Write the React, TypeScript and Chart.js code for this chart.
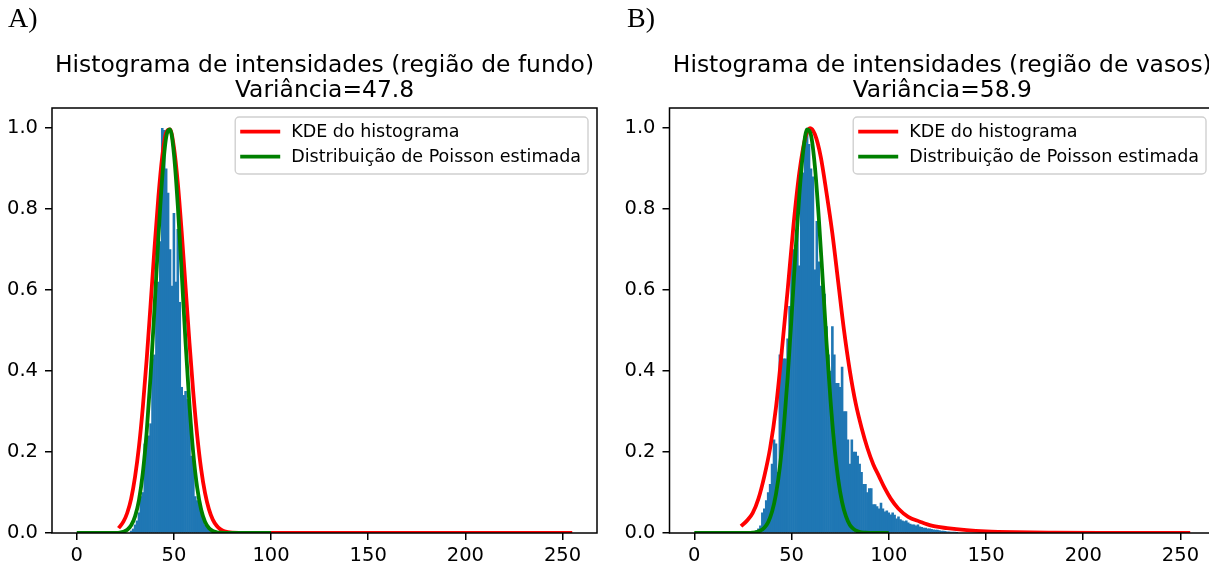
import React, { useEffect, useRef } from 'react';
import { Chart, registerables } from 'chart.js';

Chart.register(...registerables);

// ---------------- data ----------------
const xTickValues = [0, 50, 100, 150, 200, 250];
const yTickValues = [0, 0.2, 0.4, 0.6, 0.8, 1.0];
const legendLabels = ['KDE do histograma', 'Distribuição de Poisson estimada'];
const titleA = ['Histograma de intensidades (região de fundo)', 'Variância=47.8'];
const titleB = ['Histograma de intensidades (região de vasos)', 'Variância=58.9'];

// Panel A – background region
const binsA = [28, 29, 30, 31, 32, 33, 34, 35, 36, 37, 38, 39, 40, 41, 42, 43, 44, 45, 46, 47, 48, 49, 50, 51, 52, 53, 54, 55, 56, 57, 58, 59, 60, 61, 62, 63, 64, 65, 66, 67, 68, 69, 70, 71];
const countsA = [0.005, 0.01, 0.02, 0.03, 0.05, 0.09, 0.10, 0.22, 0.23, 0.24, 0.27, 0.43, 0.44, 0.60, 0.62, 0.72, 1.0, 0.995, 0.90, 0.84, 0.70, 0.61, 0.79, 0.62, 0.75, 0.57, 0.36, 0.34, 0.35, 0.33, 0.31, 0.19, 0.18, 0.09, 0.08, 0.07, 0.06, 0.04, 0.02, 0.015, 0.01, 0.006, 0.004, 0.002];
const kdeAx = [21.5, 24, 26, 28, 30, 32, 34, 36, 38, 40, 42, 44, 46, 48, 50, 52, 54, 56, 58, 60, 62, 64, 66, 68, 70, 72, 74, 76, 80, 90, 100, 150, 200, 255];
const kdeAy = [0.012, 0.028, 0.05, 0.085, 0.139, 0.213, 0.311, 0.43, 0.565, 0.703, 0.83, 0.93, 0.989, 0.997, 0.953, 0.864, 0.743, 0.607, 0.47, 0.345, 0.24, 0.158, 0.099, 0.059, 0.033, 0.018, 0.009, 0.004, 0.001, 0.0003, 0.0001, 0, 0, 0];
const poisAx = [0, 18, 20, 22, 24, 26, 28, 30, 32, 34, 36, 38, 40, 42, 44, 46, 48, 50, 52, 54, 56, 58, 60, 62, 64, 66, 68, 70, 72, 74, 76, 80, 100];
const poisAy = [0, 0.0001, 0.0004, 0.0011, 0.0031, 0.008, 0.019, 0.041, 0.081, 0.149, 0.251, 0.389, 0.555, 0.729, 0.88, 0.977, 0.997, 0.937, 0.809, 0.643, 0.47, 0.316, 0.195, 0.111, 0.058, 0.028, 0.0123, 0.005, 0.0019, 0.0006, 0.0002, 0, 0];

// Panel B – vessel region
const binsB = [30, 31, 32, 33, 34, 35, 36, 37, 38, 39, 40, 41, 42, 43, 44, 45, 46, 47, 48, 49, 50, 51, 52, 53, 54, 55, 56, 57, 58, 59, 60, 61, 62, 63, 64, 65, 66, 67, 68, 69, 70, 71, 72, 73, 74, 75, 76, 77, 78, 79, 80, 81, 82, 83, 84, 85, 86, 87, 88, 89, 90, 91, 92, 93, 94, 95, 96, 97, 98, 99, 100, 101, 102, 103, 104, 105, 106, 107, 108, 109, 110, 111, 112, 113, 114, 115, 116, 117, 118, 119, 120, 121, 122, 123, 124, 125, 126, 127, 128, 129, 130, 131, 132, 133, 134, 135];
const countsB = [0.003, 0.004, 0.006, 0.01, 0.018, 0.05, 0.06, 0.08, 0.10, 0.12, 0.17, 0.23, 0.22, 0.15, 0.44, 0.45, 0.43, 0.43, 0.48, 0.56, 0.69, 0.70, 0.69, 0.80, 0.66, 0.90, 0.89, 0.98, 1.0, 0.96, 0.90, 0.88, 0.65, 0.77, 0.67, 0.61, 0.60, 0.59, 0.51, 0.44, 0.40, 0.51, 0.44, 0.37, 0.37, 0.36, 0.41, 0.30, 0.30, 0.23, 0.17, 0.23, 0.20, 0.20, 0.19, 0.17, 0.15, 0.12, 0.12, 0.10, 0.11, 0.11, 0.07, 0.07, 0.065, 0.06, 0.074, 0.06, 0.052, 0.055, 0.05, 0.045, 0.05, 0.044, 0.035, 0.04, 0.033, 0.03, 0.028, 0.03, 0.025, 0.022, 0.02, 0.02, 0.018, 0.02, 0.015, 0.014, 0.012, 0.012, 0.01, 0.01, 0.009, 0.008, 0.007, 0.007, 0.006, 0.005, 0.005, 0.004, 0.003, 0.003, 0.002, 0.002, 0.002, 0.001];
const kdeBx = [24, 27, 30, 33, 36, 39, 42, 45, 48, 51, 54, 57, 59.5, 62, 65, 68, 71, 74, 77, 80, 83, 86, 89, 92, 95, 98, 101, 105, 110, 116, 122, 130, 140, 150, 165, 185, 210, 255];
const kdeBy = [0.017, 0.03, 0.049, 0.085, 0.14, 0.21, 0.31, 0.45, 0.60, 0.76, 0.89, 0.975, 1.0, 0.985, 0.93, 0.84, 0.74, 0.62, 0.50, 0.40, 0.32, 0.26, 0.21, 0.17, 0.14, 0.11, 0.085, 0.06, 0.04, 0.028, 0.018, 0.012, 0.007, 0.004, 0.002, 0.001, 0.0005, 0.0002];
const poisBx = [0, 28, 30, 32, 34, 36, 38, 40, 42, 44, 46, 48, 50, 52, 54, 56, 58, 60, 62, 64, 66, 68, 70, 72, 74, 76, 78, 80, 82, 84, 86, 88, 90, 100];
const poisBy = [0, 0.0003, 0.001, 0.0024, 0.0058, 0.013, 0.027, 0.053, 0.096, 0.163, 0.259, 0.384, 0.533, 0.69, 0.835, 0.944, 0.997, 0.983, 0.906, 0.78, 0.628, 0.47, 0.331, 0.217, 0.133, 0.076, 0.041, 0.02, 0.0095, 0.0041, 0.0017, 0.0006, 0.0002, 0];

// ---------------- style ----------------
const FONT = '"DejaVu Sans", sans-serif';
const BLUE = '#1f77b4';
const RED = '#ff0000';
const GREEN = '#008000';

const framePlugin = {
  id: 'frame',
  afterDatasetsDraw(chart: any) {
    const { ctx, chartArea: a } = chart;
    ctx.save();
    ctx.strokeStyle = '#000';
    ctx.lineWidth = 1.5;
    ctx.strokeRect(a.left, a.top, a.right - a.left, a.bottom - a.top);
    ctx.restore();
  },
};

const legendPlugin = {
  id: 'boxLegend',
  afterDatasetsDraw(chart: any, _args: any, opts: any) {
    const { ctx, chartArea: a } = chart;
    const fs = 17.5;
    ctx.save();
    ctx.font = `${fs}px ${FONT}`;
    const tw = Math.max(...opts.labels.map((l: string) => ctx.measureText(l).width));
    const padL = 5, lineLen = 40, gap = 11, padR = 7;
    const w = padL + lineLen + gap + tw + padR;
    const h = 57;
    const right = a.right - 9;
    const top = a.top + 9;
    const left = right - w;
    ctx.beginPath();
    ctx.roundRect(left, top, w, h, 4);
    ctx.fillStyle = 'rgba(255,255,255,0.8)';
    ctx.fill();
    ctx.strokeStyle = '#d0d0d0';
    ctx.lineWidth = 1.4;
    ctx.stroke();
    opts.labels.forEach((label: string, i: number) => {
      const y = top + 14.7 + i * 25;
      ctx.beginPath();
      ctx.strokeStyle = opts.colors[i];
      ctx.lineWidth = 3.8;
      ctx.moveTo(left + padL, y);
      ctx.lineTo(left + padL + lineLen, y);
      ctx.stroke();
      ctx.fillStyle = '#000';
      ctx.textAlign = 'left';
      ctx.textBaseline = 'middle';
      ctx.fillText(label, left + padL + lineLen + gap, y + 1);
    });
    ctx.restore();
  },
};

const titlePlugin = {
  id: 'panelTitle',
  afterDraw(chart: any, _args: any, opts: any) {
    const { ctx, chartArea: a } = chart;
    ctx.save();
    ctx.font = `23.4px ${FONT}`;
    ctx.fillStyle = '#000';
    ctx.textAlign = 'center';
    ctx.textBaseline = 'alphabetic';
    const cx = (a.left + a.right) / 2;
    opts.lines.forEach((t: string, i: number) => ctx.fillText(t, cx, 72 + i * 25));
    ctx.restore();
  },
};

type PanelProps = {
  left: number; width: number; axisLeft: number; title: string[];
  bins: number[]; counts: number[]; kdeX: number[]; kdeY: number[]; poisX: number[]; poisY: number[];
};

function Panel(p: PanelProps) {
  const ref = useRef<HTMLCanvasElement>(null);
  useEffect(() => {
    const chart = new Chart(ref.current as HTMLCanvasElement, {
      type: 'bar',
      data: {
        datasets: [
          {
            type: 'line', label: legendLabels[1], order: 1,
            data: p.poisX.map((x, i) => ({ x, y: p.poisY[i] })),
            borderColor: GREEN, borderWidth: 3.8, pointRadius: 0, fill: false,
            cubicInterpolationMode: 'monotone',
          } as any,
          {
            type: 'line', label: legendLabels[0], order: 2,
            data: p.kdeX.map((x, i) => ({ x, y: p.kdeY[i] })),
            borderColor: RED, borderWidth: 3.8, pointRadius: 0, fill: false,
            cubicInterpolationMode: 'monotone',
          } as any,
          {
            type: 'bar', label: 'hist', order: 3,
            data: p.bins.map((x, i) => ({ x, y: p.counts[i] })),
            backgroundColor: BLUE, borderWidth: 0,
            barPercentage: 1, categoryPercentage: 1,
          } as any,
        ],
      },
      options: {
        responsive: false,
        animation: false,
        events: [],
        layout: { padding: { top: 108, right: 3, bottom: 0, left: 0 } },
        plugins: {
          legend: { display: false },
          tooltip: { enabled: false },
          title: { display: false },
          boxLegend: { labels: legendLabels, colors: [RED, GREEN] },
          panelTitle: { lines: p.title },
        } as any,
        scales: {
          x: {
            type: 'linear', min: -12.75, max: 267.75, offset: false,
            afterBuildTicks: (s: any) => { s.ticks = xTickValues.map((v) => ({ value: v })); },
            afterFit: (s: any) => { s.height = 37; },
            ticks: { color: '#000', font: { family: FONT, size: 19.5 }, padding: 4, maxRotation: 0, autoSkip: false, callback: (v: any) => String(v) },
            grid: { display: true, offset: false, drawOnChartArea: false, drawTicks: true, tickLength: 7, color: '#000', lineWidth: 1.5 },
            border: { display: false },
          },
          y: {
            type: 'linear', min: 0, max: 1.05,
            afterBuildTicks: (s: any) => { s.ticks = yTickValues.map((v) => ({ value: v })); },
            afterFit: (s: any) => { s.width = p.axisLeft; },
            ticks: { color: '#000', font: { family: FONT, size: 19.5 }, padding: 7, autoSkip: false, callback: (v: any) => Number(v).toFixed(1) },
            grid: { display: true, drawOnChartArea: false, drawTicks: true, tickLength: 7, color: '#000', lineWidth: 1.5 },
            border: { display: false },
          },
        } as any,
      },
      plugins: [framePlugin, legendPlugin, titlePlugin],
    });
    return () => chart.destroy();
  }, []);
  return (
    <canvas
      ref={ref}
      width={p.width}
      height={570}
      style={{ position: 'absolute', left: p.left, top: 0, width: p.width, height: 570 }}
    />
  );
}

const labelStyle: React.CSSProperties = {
  position: 'absolute', top: 3, fontFamily: '"Liberation Serif", "DejaVu Serif", serif',
  fontSize: 28, lineHeight: '30px', color: '#000',
};

export default function App() {
  return (
    <div style={{ position: 'fixed', left: 0, top: 0, width: 1209, height: 570, overflow: 'hidden', background: '#fff' }}>
      <Panel left={0} width={600} axisLeft={52} title={titleA}
        bins={binsA} counts={countsA} kdeX={kdeAx} kdeY={kdeAy} poisX={poisAx} poisY={poisAy} />
      <Panel left={620} width={598} axisLeft={49.5} title={titleB}
        bins={binsB} counts={countsB} kdeX={kdeBx} kdeY={kdeBy} poisX={poisBx} poisY={poisBy} />
      <div style={{ ...labelStyle, left: 8 }}>A)</div>
      <div style={{ ...labelStyle, left: 627 }}>B)</div>
    </div>
  );
}
